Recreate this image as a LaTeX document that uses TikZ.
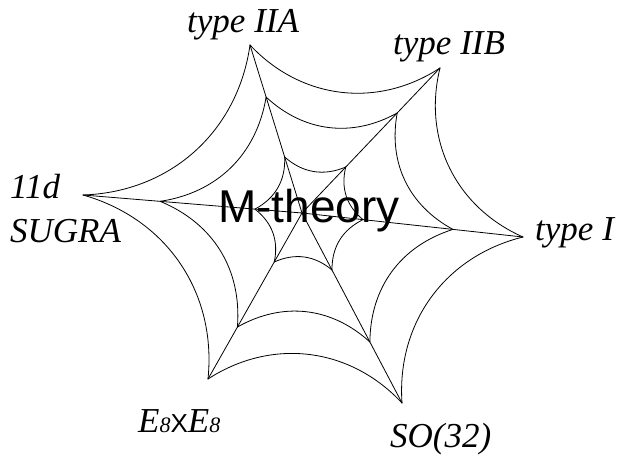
\documentclass[tikz,border=0pt]{standalone}
\usepackage{fontspec}
\setmainfont{Liberation Serif}
\setsansfont{Liberation Sans}
\usetikzlibrary{calc}
\begin{document}
\begin{tikzpicture}[x=1pt,y=-1pt,
  web/.style={line width=0.8pt, black, line cap=round},
  lbl/.style={font=\fontsize{35}{44}\selectfont\itshape, inner sep=0pt, anchor=base west}]
\useasboundingbox (0,0) rectangle (619,457);
% centre and outer vertices
\coordinate (C) at (302,213);
\coordinate (v1) at (83,195);
\coordinate (v2) at (250,45);
\coordinate (v3) at (440,68);
\coordinate (v4) at (523,237);
\coordinate (v5) at (402,403);
\coordinate (v6) at (208,379);
% second ring
\coordinate (m1) at ($(C)!0.648!(v1)$);
\coordinate (m2) at ($(C)!0.690!(v2)$);
\coordinate (m3) at ($(C)!0.690!(v3)$);
\coordinate (m4) at ($(C)!0.683!(v4)$);
\coordinate (m5) at ($(C)!0.679!(v5)$);
\coordinate (m6) at ($(C)!0.687!(v6)$);
% inner ring
\coordinate (n1) at ($(C)!0.215!(v1)$);
\coordinate (n2) at ($(C)!0.333!(v2)$);
\coordinate (n3) at ($(C)!0.317!(v3)$);
\coordinate (n4) at ($(C)!0.276!(v4)$);
\coordinate (n5) at ($(C)!0.300!(v5)$);
\coordinate (n6) at ($(C)!0.295!(v6)$);
% radials
\foreach \i in {1,...,6} \draw[web] (C) -- (v\i);
% rings
\foreach \a/\b in {1/2,2/3,3/4,4/5,5/6,6/1} {
  \draw[web] (v\a) to[bend right=40] (v\b);
  \draw[web] (m\a) to[bend right=36] (m\b);
  \draw[web] (n\a) to[bend right=32] (n\b);
}
% labels
\node[lbl] (l2) at (187,33) {type IIA};
\node[lbl] (l3) at (393,55) {type IIB};
\node[lbl] (l4) at (535,241) {type I};
\node[lbl, anchor=north west, align=left] (l1) at (10,174) {11d\\SUGRA};
\node[lbl] (l6) at (138,432) {E{\fontsize{22}{22}\selectfont 8}{\fontsize{26}{26}\selectfont\sffamily\upshape X}E{\fontsize{22}{22}\selectfont 8}};
\node[lbl] (l5) at (390,447) {SO(32)};
\node[font=\fontsize{46}{50}\selectfont\sffamily, inner sep=0pt, anchor=base west] (M) at (218,223) {M-theory};
\end{tikzpicture}
\end{document}
